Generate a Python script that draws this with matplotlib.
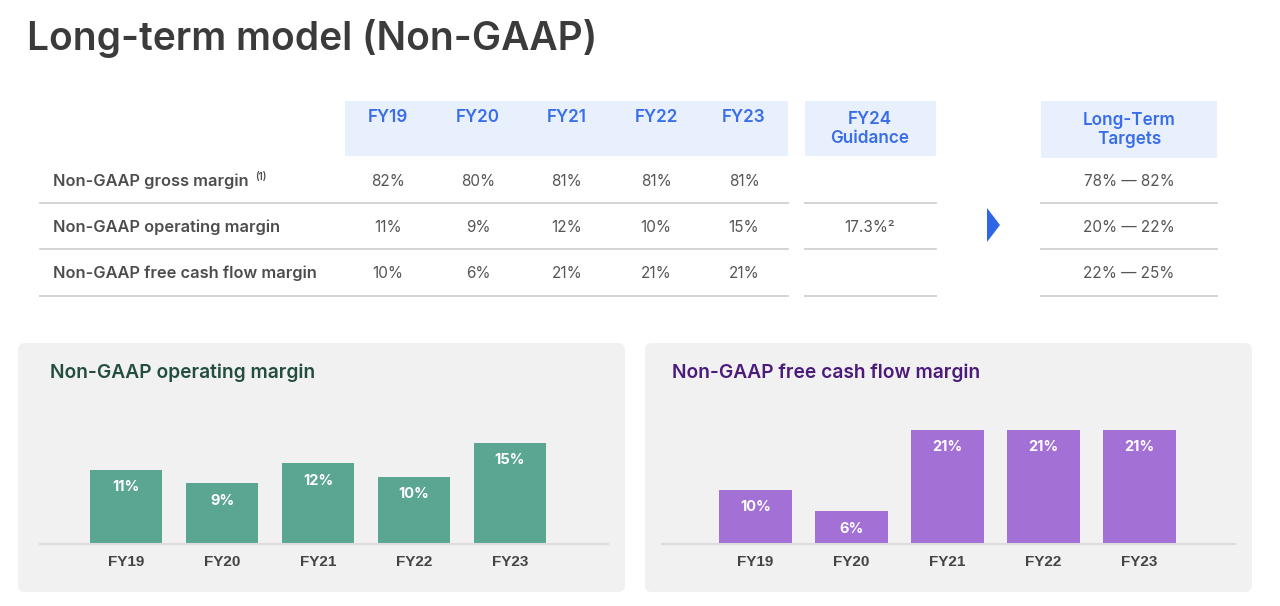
import matplotlib
matplotlib.use("Agg")
import matplotlib.pyplot as plt
from matplotlib.patches import FancyBboxPatch, Rectangle, Polygon

# ---- data ----
years = ["FY19", "FY20", "FY21", "FY22", "FY23"]
row_labels = ["Non-GAAP gross margin", "Non-GAAP operating margin", "Non-GAAP free cash flow margin"]
gross_margin = [82, 80, 81, 81, 81]
op_margin = [11, 9, 12, 10, 15]
fcf_margin = [10, 6, 21, 21, 21]
fy24_guidance = ["", "17.3%\u00b2", ""]
long_term_targets = ["78% \u2014 82%", "20% \u2014 22%", "22% \u2014 25%"]

TITLE_FONT = ["Inter", "DejaVu Sans"]
ARIAL = ["Liberation Sans", "DejaVu Sans"]
BLUE = "#3a6ee8"
HEADER_BG = "#e8effd"
LINE = "#d0d0d0"

fig = plt.figure(figsize=(12.8, 6.06), dpi=100)
bg = fig.add_axes([0, 0, 1, 1])
bg.set_xlim(0, 1280)
bg.set_ylim(606, 0)
bg.axis("off")

bg.text(27, 38, "Long-term model (Non-GAAP)", fontsize=28, fontweight="semibold",
        family=TITLE_FONT, color="#3b3b3b", va="center", ha="left")

# ---- table ----
col_x = [388, 478, 567, 656, 744]
row_y = [181, 227, 273]
line_y = [203, 249, 296]

bg.add_patch(Rectangle((345, 101), 443, 55, color=HEADER_BG, lw=0))
bg.add_patch(Rectangle((805, 101), 131, 55, color=HEADER_BG, lw=0))
bg.add_patch(Rectangle((1041, 101), 176, 57, color=HEADER_BG, lw=0))

for x, yr in zip(col_x, years):
    bg.text(x, 118, yr, fontsize=12.3, fontweight="semibold", family=TITLE_FONT,
            color=BLUE, ha="center", va="center")
bg.text(870, 129, "FY24\nGuidance", fontsize=12.3, fontweight="semibold", family=TITLE_FONT,
        color=BLUE, ha="center", va="center", linespacing=1.1)
bg.text(1129, 130, "Long-Term\nTargets", fontsize=12.3, fontweight="semibold", family=TITLE_FONT,
        color=BLUE, ha="center", va="center", linespacing=1.1)

series = [gross_margin, op_margin, fcf_margin]
for i, (label, vals) in enumerate(zip(row_labels, series)):
    y = row_y[i]
    bg.text(53, y, label, fontsize=11.8, fontweight="semibold", family=TITLE_FONT,
            color="#4d4d4d", ha="left", va="center")
    for x, v in zip(col_x, vals):
        bg.text(x, y, f"{v}%", fontsize=11, family=TITLE_FONT, color="#555555",
                ha="center", va="center")
    if fy24_guidance[i]:
        bg.text(870, y, fy24_guidance[i], fontsize=11, family=TITLE_FONT,
                color="#555555", ha="center", va="center")
    bg.text(1129, y + 1, long_term_targets[i], fontsize=11, family=TITLE_FONT,
            color="#555555", ha="center", va="center")
    bg.plot([40, 788], [line_y[i], line_y[i]], color=LINE, lw=1.3)
    bg.plot([805, 936], [line_y[i], line_y[i]], color=LINE, lw=1.3)
    bg.plot([1041, 1217], [line_y[i], line_y[i]], color=LINE, lw=1.3)
bg.text(255, 177, "(1)", fontsize=7, fontweight="semibold", family=TITLE_FONT,
        color="#4d4d4d", ha="left", va="center")

bg.add_patch(Polygon([[987, 208], [1000, 225], [987, 242]], closed=True,
                     color="#2f66e6", lw=0))

# ---- panels ----
for x0 in (18, 645):
    bg.add_patch(FancyBboxPatch((x0, 343), 607, 249, boxstyle="round,pad=0,rounding_size=7",
                                fc="#f1f1f1", ec="none"))

bg.text(50, 373, "Non-GAAP operating margin", fontsize=13.8, fontweight="semibold",
        family=TITLE_FONT, color="#234d3e", ha="left", va="center")
bg.text(672, 373, "Non-GAAP free cash flow margin", fontsize=13.8, fontweight="semibold",
        family=TITLE_FONT, color="#4b1a7a", ha="left", va="center")


def bar_panel(rect, vals, color, xlim, ytop):
    W, H = 1280, 606
    left, right, top, bottom = rect
    ax = fig.add_axes([left / W, 1 - bottom / H, (right - left) / W, (bottom - top) / H])
    ax.patch.set_alpha(0)
    x = list(range(len(years)))
    ax.bar(x, vals, width=0.76, color=color, edgecolor="none")
    ax.set_xlim(*xlim)
    ax.set_ylim(0, ytop)
    for s in ["top", "right", "left"]:
        ax.spines[s].set_visible(False)
    ax.spines["bottom"].set_color("#dcdcdc")
    ax.spines["bottom"].set_linewidth(1.5)
    ax.set_yticks([])
    ax.set_xticks(x)
    ax.set_xticklabels(years, fontsize=11, fontweight="bold", family=ARIAL, color="#444444")
    ax.tick_params(axis="x", length=0, pad=8)
    for xi, v in zip(x, vals):
        ax.annotate(f"{v}%", (xi, v), xytext=(0, -12.5), textcoords="offset points",
                    ha="center", va="center", color="white", fontsize=10.5,
                    fontweight="bold", family=TITLE_FONT)
    return ax


bar_panel((40, 608, 400, 544), op_margin, "#5ba593",
          ((40 - 126) / 96, (608 - 126) / 96), 144 / 6.73)
bar_panel((662, 1235, 400, 544), fcf_margin, "#a370d6",
          ((662 - 755.5) / 96, (1235 - 755.5) / 96), 144 / 5.43)

fig.savefig("out.png", dpi=100)
